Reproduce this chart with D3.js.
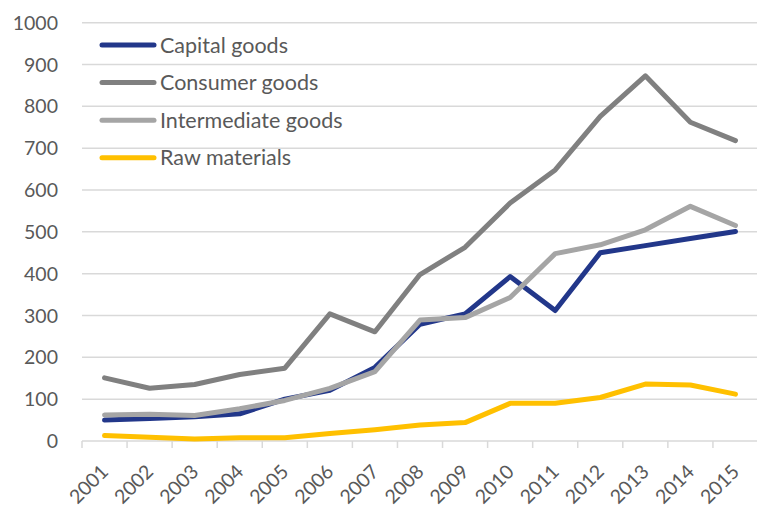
<!DOCTYPE html>
<html>
<head>
<meta charset="utf-8">
<script src="https://cdn.jsdelivr.net/npm/d3@7"></script>
<style>
  html, body { margin: 0; padding: 0; background: #ffffff; }
  svg { display: block; }
  text { font-family: Lato, "Open Sans", sans-serif; fill: #595959; }
</style>
</head>
<body>
<script>
// Years on the category axis
const years = ["2001","2002","2003","2004","2005","2006","2007","2008","2009","2010","2011","2012","2013","2014","2015"];

// Series values
const capitalGoods      = [50, 54, 58, 65, 100, 121, 176, 279, 304, 393, 312, 450, 467, 484, 501];
const consumerGoods     = [151, 126, 135, 159, 174, 304, 261, 398, 463, 569, 648, 776, 873, 762, 718];
const intermediateGoods = [62, 64, 61, 77, 97, 126, 166, 289, 295, 343, 448, 469, 505, 561, 515];
const rawMaterials      = [13, 9, 5, 8, 8, 18, 27, 38, 44, 90, 90, 104, 136, 134, 112];

// Series names and colours, in drawing order
const seriesNames  = ["Capital goods", "Consumer goods", "Intermediate goods", "Raw materials"];
const seriesColors = ["#22378A", "#808080", "#A5A5A5", "#FFC000"];
const seriesValues = [capitalGoods, consumerGoods, intermediateGoods, rawMaterials];

// Value axis ticks
const yTicks = [0, 100, 200, 300, 400, 500, 600, 700, 800, 900, 1000];

const W = 757, H = 507;
const plot = { left: 82, right: 758, top: 22.7, bottom: 441 };

const svg = d3.select("body").append("svg")
  .attr("width", W).attr("height", H);

const x = d3.scaleBand().domain(years).range([plot.left, plot.right]).padding(0);
const y = d3.scaleLinear().domain([0, 1000]).range([plot.bottom, plot.top]);
const cx = d => x(d) + x.bandwidth() / 2;

// Horizontal gridlines
svg.append("g")
  .selectAll("line")
  .data(yTicks.filter(t => t > 0))
  .join("line")
  .attr("x1", plot.left).attr("x2", plot.right)
  .attr("y1", d => y(d)).attr("y2", d => y(d))
  .attr("stroke", "#D9D9D9").attr("stroke-width", 1.5);

// Value axis labels
svg.append("g")
  .selectAll("text")
  .data(yTicks)
  .join("text")
  .attr("x", 58).attr("y", d => y(d))
  .attr("dy", "0.36em")
  .attr("text-anchor", "end")
  .style("font-size", "19.5px")
  .text(d => d);

// Category axis line and tick marks at band boundaries
const xAxis = svg.append("g");
xAxis.append("line")
  .attr("x1", plot.left).attr("x2", plot.right)
  .attr("y1", y(0)).attr("y2", y(0))
  .attr("stroke", "#D9D9D9").attr("stroke-width", 1.5);
xAxis.selectAll("line.tick")
  .data(years)
  .join("line")
  .attr("class", "tick")
  .attr("x1", d => x(d)).attr("x2", d => x(d))
  .attr("y1", y(0)).attr("y2", y(0) + 7)
  .attr("stroke", "#D9D9D9").attr("stroke-width", 1.5);

// Rotated year labels
xAxis.selectAll("text")
  .data(years)
  .join("text")
  .attr("transform", d => `translate(${cx(d) + 5},${y(0) + 32}) rotate(-45)`)
  .attr("text-anchor", "end")
  .style("font-size", "19.5px")
  .text(d => d);

// Series lines
const line = d3.line()
  .x((v, i) => cx(years[i]))
  .y(v => y(v));

svg.append("g")
  .selectAll("path")
  .data(seriesValues)
  .join("path")
  .attr("d", d => line(d))
  .attr("fill", "none")
  .attr("stroke", (d, i) => seriesColors[i])
  .attr("stroke-width", 5)
  .attr("stroke-linejoin", "round")
  .attr("stroke-linecap", "round");

// Legend
const legend = svg.append("g");
const legendY = d3.scalePoint().domain(seriesNames).range([45, 157.7]);
legend.selectAll("line")
  .data(seriesNames)
  .join("line")
  .attr("x1", 102).attr("x2", 154)
  .attr("y1", d => legendY(d)).attr("y2", d => legendY(d))
  .attr("stroke", (d, i) => seriesColors[i])
  .attr("stroke-width", 5)
  .attr("stroke-linecap", "round");
legend.selectAll("text")
  .data(seriesNames)
  .join("text")
  .attr("x", 160).attr("y", d => legendY(d))
  .attr("dy", "0.36em")
  .style("font-size", "21.5px")
  .text(d => d);
</script>
</body>
</html>
